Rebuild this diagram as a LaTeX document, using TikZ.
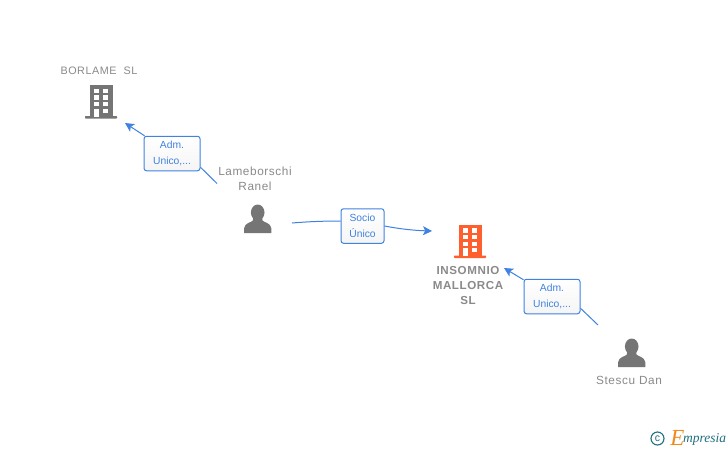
\documentclass[tikz,border=0pt]{standalone}
\usepackage{fontspec}
\setmainfont{Liberation Sans}
\newfontfamily\spaced[LetterSpace=5]{Liberation Sans}
\newfontfamily\logofont{Liberation Serif}
\usetikzlibrary{arrows.meta}
\definecolor{grayicon}{HTML}{757575}
\definecolor{nametext}{HTML}{8A8A8A}
\definecolor{linkblue}{HTML}{3F82E0}
\definecolor{orangeicon}{HTML}{FF5F2E}
\definecolor{logoteal}{HTML}{1F6F80}
\definecolor{logoorange}{HTML}{F08A1D}
\tikzset{
  nametxt/.style={font=\spaced\fontsize{11.8}{15}\selectfont,text=nametext,align=center,inner sep=0pt},
  boldname/.style={font=\spaced\bfseries\fontsize{11.6}{15}\selectfont,text=nametext,align=center,inner sep=0pt},
  rel/.style={draw=linkblue,rounded corners=2.5pt,line width=1pt,top color=white,bottom color=white!96!black,
    text=linkblue,font=\fontsize{10.3}{15.5}\selectfont,align=center,inner sep=0pt},
  link/.style={draw=linkblue,line width=1pt},
  arrowlink/.style={link,-{Stealth[length=9pt,width=9pt,inset=2.2pt]}},
  anchorpt/.style={inner sep=0pt,minimum size=0pt}
}
% #1 x, #2 y (top left of body), #3 colour
\newcommand{\buildingicon}[3]{%
  \begin{scope}[shift={(#1,#2)}]
    \fill[#3] (0,0) rectangle (22.5,31.5);
    \fill[#3,rounded corners=0.6pt] (-5,31) rectangle (27,33.5);
    \foreach \wy in {3.9,10.4,17}{
      \fill[white] (4,\wy) rectangle (9,\wy+4.4);
      \fill[white] (13.2,\wy) rectangle (18.4,\wy+4.4);
    }
    \fill[white] (4,23.6) rectangle (9,31.5);
    \fill[white] (13.2,23.6) rectangle (18.4,27.8);
  \end{scope}}
% #1 x centre, #2 y of head centre
\newcommand{\personicon}[2]{%
  \begin{scope}[shift={(#1,#2)}]
    \fill[grayicon] (0,0.5) ellipse (6.8 and 8);
    \fill[grayicon] (-4.5,5) -- (-4.8,8.5) .. controls (-6,10.5) and (-13,10.5) .. (-13.7,16.5)
      -- (-13.7,21) -- (13.7,21) -- (13.7,16.5) .. controls (13,10.5) and (6,10.5) .. (4.8,8.5) -- (4.5,5) -- cycle;
  \end{scope}}
\begin{document}
\begin{tikzpicture}[x=1pt,y=-1pt]
\useasboundingbox (0,0) rectangle (728,450);
\fill[white] (0,0) rectangle (728,450);

% icons
\buildingicon{90}{85}{grayicon}
\buildingicon{459}{224.5}{orangeicon}
\personicon{257.7}{212}
\personicon{631.7}{346}

% names
\node[nametxt,font=\spaced\fontsize{10.8}{15}\selectfont] (borlame) at (99,71) {BORLAME\ \ SL};
\node[nametxt] (lameborschi) at (255,178.5) {Lameborschi\\Ranel};
\node[boldname] (insomnio) at (468,286) {INSOMNIO\\MALLORCA\\SL};
\node[nametxt] (stescu) at (629,380.5) {Stescu Dan};

% relation boxes
\node[rel,minimum width=56pt,minimum height=34.5pt] (adm1) at (172,153.5) {Adm.\\Unico,...};
\node[rel,minimum width=43pt,minimum height=34.5pt] (socio) at (362.5,226) {Socio\\Único};
\node[rel,minimum width=56pt,minimum height=34.5pt] (adm2) at (552,296.5) {Adm.\\Unico,...};

% connector ends
\coordinate (a1s) at (217,183.5);
\coordinate (a1e) at (125,123);
\coordinate (ss) at (292,223);
\coordinate (se) at (432,231);
\coordinate (a2s) at (598,325);
\coordinate (a2e) at (504,268);

% connectors
\draw[link] (a1s) -- ([yshift=4pt]adm1.south east);
\draw[arrowlink] ([xshift=1pt]adm1.north west) -- (a1e);
\draw[link] (ss) .. controls (310,221.5) and (325,221) .. ([yshift=5pt]socio.west);
\draw[arrowlink] (socio.east) .. controls (400,229) and (415,230.5) .. (se);
\draw[link] (a2s) -- ([yshift=6pt]adm2.south east);
\draw[arrowlink] ([yshift=-1pt]adm2.north west) -- (a2e);

% logo
\node[anchorpt,circle,draw=logoteal,line width=1.1pt,minimum size=13pt,text=logoteal,font=\fontsize{10.5}{10.5}\selectfont] (copyr) at (657.5,438.5) {c};
\node[anchorpt,text=logoorange,font=\logofont\itshape\fontsize{23}{23}\selectfont] (logoe) at (677.5,437.5) {E};
\node[anchorpt,text=logoteal,font=\logofont\itshape\fontsize{13.5}{13.5}\selectfont,anchor=west] (logot) at (683,439.5) {mpresia};
\end{tikzpicture}
\end{document}
